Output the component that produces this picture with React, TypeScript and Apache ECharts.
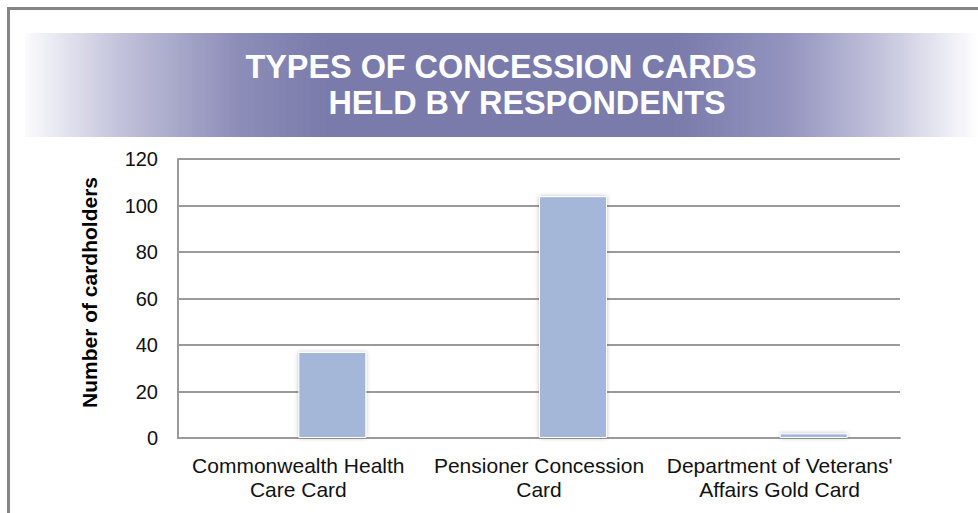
import React, { useEffect, useRef } from "react";
import * as echarts from "echarts";

const categories = [
  "Commonwealth Health\nCare Card",
  "Pensioner Concession\nCard",
  "Department of Veterans'\nAffairs Gold Card",
];
const cardholders = [37, 104, 2];
const emptySeries = ["-", "-", "-"];
const titleLine1 = "TYPES OF CONCESSION CARDS";
const titleLine2 = "HELD BY RESPONDENTS";
const yAxisName = "Number of cardholders";

export default function App() {
  const ref = useRef<HTMLDivElement>(null);
  useEffect(() => {
    if (!ref.current) return;
    const chart = echarts.init(ref.current, null, { renderer: "svg" });
    const font = "Liberation Sans, Arial, sans-serif";
    chart.setOption({
      animation: false,
      backgroundColor: "#ffffff",
      grid: { left: 178, right: 78, top: 159, bottom: 75 },
      graphic: [
        {
          type: "rect",
          shape: { x: 8.5, y: 8.5, width: 1000, height: 540 },
          style: { fill: "none", stroke: "#858585", lineWidth: 3 },
          z: 0,
        },
        {
          type: "rect",
          shape: { x: 25, y: 33, width: 953, height: 104 },
          style: {
            fill: new echarts.graphic.LinearGradient(0, 0, 1, 0, [
              { offset: 0, color: "#FBFBFD" },
              { offset: 0.1, color: "#C2C2DB" },
              { offset: 0.22, color: "#8E8EB9" },
              { offset: 0.32, color: "#7A7AAB" },
              { offset: 0.68, color: "#7A7AAB" },
              { offset: 0.8, color: "#9494BF" },
              { offset: 0.9, color: "#C4C4DD" },
              { offset: 1, color: "#FFFFFF" },
            ]),
          },
          z: 0,
        },
        {
          type: "text",
          x: 501,
          y: 67,
          style: {
            text: titleLine1,
            fill: "#ffffff",
            font: `bold 32.4px ${font}`,
            textAlign: "center",
            textVerticalAlign: "middle",
          },
          z: 5,
        },
        {
          type: "text",
          x: 527,
          y: 103,
          style: {
            text: titleLine2,
            fill: "#ffffff",
            font: `bold 32.4px ${font}`,
            textAlign: "center",
            textVerticalAlign: "middle",
          },
          z: 5,
        },
        {
          type: "text",
          x: 89,
          y: 292.5,
          rotation: Math.PI / 2,
          style: {
            text: yAxisName,
            fill: "#000000",
            font: `bold 21px ${font}`,
            textAlign: "center",
            textVerticalAlign: "middle",
          },
          z: 5,
        },
      ],
      xAxis: {
        type: "category",
        data: categories,
        axisLine: { show: true, lineStyle: { color: "#9A9A9A", width: 2 } },
        axisTick: { show: false },
        axisLabel: {
          color: "#111111",
          fontSize: 21,
          fontFamily: font,
          lineHeight: 24,
          margin: 15,
          interval: 0,
        },
      },
      yAxis: {
        type: "value",
        min: 0,
        max: 120,
        interval: 20,
        axisLine: { show: true, lineStyle: { color: "#9A9A9A", width: 2 } },
        axisTick: { show: false },
        splitLine: { lineStyle: { color: "#9A9A9A", width: 2 } },
        axisLabel: {
          color: "#111111",
          fontSize: 20,
          fontFamily: font,
          margin: 20,
        },
      },
      series: [
        {
          type: "bar",
          data: emptySeries,
          barWidth: 68,
          barGap: "0%",
        },
        {
          type: "bar",
          data: cardholders,
          barWidth: 68,
          barGap: "0%",
          itemStyle: {
            color: "#A4B7D9",
            borderColor: "#ffffff",
            borderWidth: 1,
            shadowColor: "rgba(0,0,0,0.25)",
            shadowBlur: 4,
          },
        },
      ],
    });
    return () => chart.dispose();
  }, []);
  return (
    <div
      ref={ref}
      style={{ position: "fixed", left: 0, top: 0, width: 978, height: 513 }}
    />
  );
}
